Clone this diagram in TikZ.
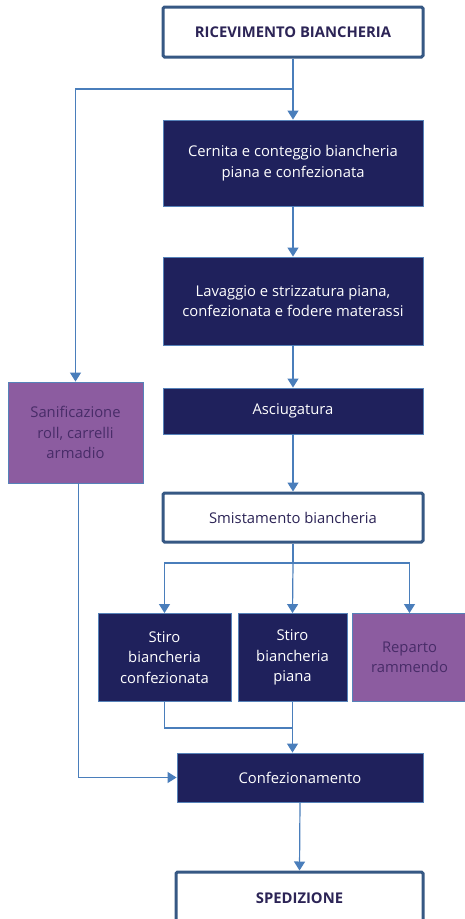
\documentclass[tikz,border=0pt]{standalone}
\usepackage{fontspec}
\setmainfont{Open Sans}
\usetikzlibrary{arrows.meta}
\definecolor{navy}{RGB}{31,33,92}
\definecolor{edgeblue}{RGB}{86,130,185}
\definecolor{conn}{RGB}{74,126,187}
\definecolor{thickb}{RGB}{54,88,132}
\definecolor{purp}{RGB}{140,92,160}
\definecolor{purptext}{RGB}{72,44,104}
\definecolor{titletext}{RGB}{44,36,86}
\tikzset{
  x=1pt,y=-1pt,
  boxfont/.style={font=\fontsize{14.8}{20.5}\selectfont},
  navybox/.style={draw=edgeblue,line width=0.9pt,fill=navy,text=white,align=center,inner sep=0pt,boxfont},
  purpbox/.style={draw=edgeblue,line width=0.9pt,fill=purp,text=purptext,align=center,inner sep=0pt,boxfont},
  whitebox/.style={draw=thickb,line width=3pt,rounded corners=1.5pt,fill=white,text=titletext,align=center,inner sep=0pt,boxfont},
  boldtitle/.style={font=\fontsize{14.8}{20.5}\selectfont\bfseries},
  conn/.style={draw=conn,line width=1.2pt,-{Triangle[length=9pt,width=11pt]}},
  connl/.style={draw=conn,line width=1.2pt}
}
\begin{document}
\begin{tikzpicture}
\useasboundingbox[fill=white] (0,0) rectangle (465,919);
\node[whitebox,boldtitle,minimum width=260,minimum height=50] (ric) at (293,32) {RICEVIMENTO BIANCHERIA};
\node[navybox,minimum width=260,minimum height=86] (cern) at (293,163) {Cernita e conteggio biancheria\\piana e confezionata};
\node[navybox,minimum width=260,minimum height=88] (lav) at (293,301) {Lavaggio e strizzatura piana,\\confezionata e fodere materassi};
\node[navybox,minimum width=260,minimum height=46] (asc) at (293,411) {Asciugatura};
\node[purpbox,minimum width=135,minimum height=101] (san) at (75.5,432.5) {Sanificazione\\roll, carrelli\\armadio};
\node[whitebox,minimum width=260,minimum height=49] (smi) at (293,517.5) {Smistamento biancheria};
\node[navybox,minimum width=133,minimum height=88] (sc) at (164.5,657.5) {Stiro\\biancheria\\confezionata};
\node[navybox,minimum width=109,minimum height=88] (sp) at (292.5,657.5) {Stiro\\biancheria\\piana};
\node[purpbox,minimum width=114,minimum height=88] (rep) at (409.5,657.5) {Reparto\\rammendo};
\node[navybox,minimum width=246,minimum height=49] (conf) at (300,777.5) {Confezionamento};
\node[whitebox,boldtitle,minimum width=247,minimum height=52] (sped) at (299.5,898) {SPEDIZIONE};

\coordinate (j1) at (293,89);
\coordinate (j2) at (293,563);
\coordinate (j3) at (293,728);

\draw[conn] (ric.south) -- (cern.north);
\draw[conn] (j1) -| (san.north);
\draw[conn] (cern.south) -- (lav.north);
\draw[conn] (lav.south) -- (asc.north);
\draw[conn] (asc.south) -- (smi.north);
\draw[connl] (smi.south) -- (j2);
\draw[conn] (j2) -| (sc.north);
\draw[conn] (j2) -- (sp.north);
\draw[conn] (j2) -| (rep.north);
\draw[connl] (sc.south) |- (j3);
\draw[conn] (sp.south) -- (sp.south |- conf.north);
\draw[conn] ([xshift=3pt]san.south) |- (conf.west);
\draw[conn] (conf.south) -- (sped.north);
\end{tikzpicture}
\end{document}
